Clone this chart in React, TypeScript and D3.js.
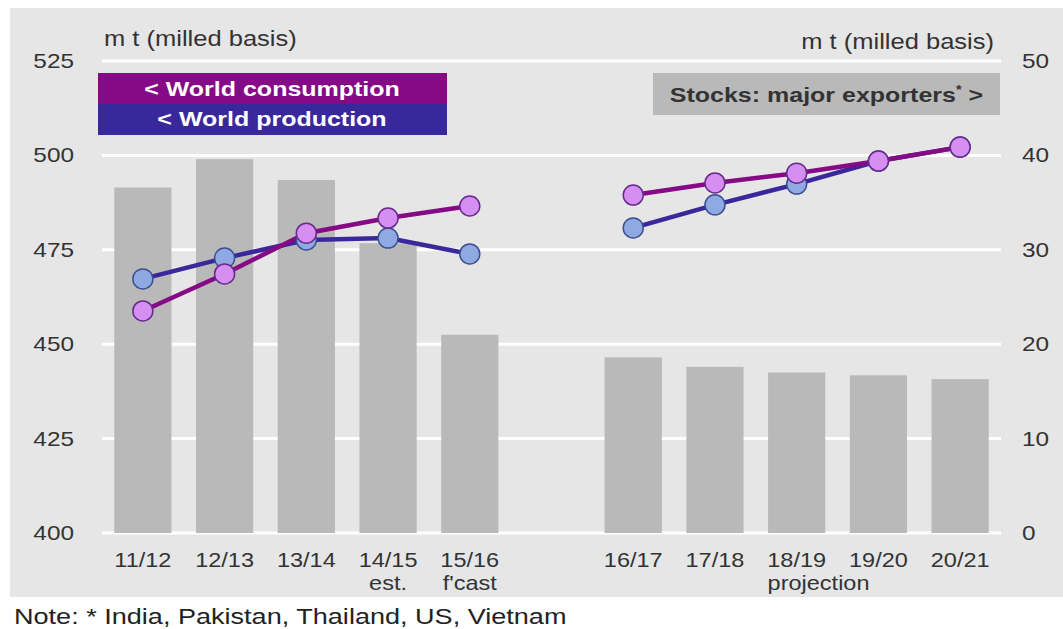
import { useEffect, useRef } from 'react'
import * as d3 from 'd3'

const W = 1063
const H = 629

// plot area
const X0 = 102
const X1 = 1001
const Y_TOP = 61
const Y_BOT = 533

const FONT = 'Arial, "Liberation Sans", sans-serif'
const SX = 1.16 // source picture is a little stretched horizontally

// marketing years; '' is the empty slot between forecast and projection
const YEARS = ['11/12', '12/13', '13/14', '14/15', '15/16', '', '16/17', '17/18', '18/19', '19/20', '20/21']
const SUBLABELS = ['', '', '', 'est.', "f'cast", '', '', '', '', '', '']

// m t milled basis (left axis)
const CONSUMPTION = [458.8, 468.6, 479.4, 483.4, 486.6, null, 489.5, 492.7, 495.3, 498.5, 502.2]
const PRODUCTION = [467.3, 472.8, 477.6, 478.1, 473.9, null, 480.8, 486.9, 492.4, 498.5, 502.2]
// stocks of major exporters (right axis)
const STOCKS = [36.6, 39.6, 37.4, 30.7, 21.0, null, 18.6, 17.6, 17.0, 16.7, 16.3]

const LEFT_TICKS = [400, 425, 450, 475, 500, 525]
const RIGHT_TICKS = [0, 10, 20, 30, 40, 50]

const C_CONS = '#860a86'
const C_PROD = '#38289b'

type Sel = d3.Selection<SVGSVGElement, unknown, null, undefined>

function txt(svg: Sel, x: number, y: number, s: string, opts: { size?: number; anchor?: string; weight?: string; fill?: string; sx?: number } = {}) {
  const { size = 21, anchor = 'start', weight = 'normal', fill = '#333', sx = SX } = opts
  return svg.append('text')
    .attr('transform', `translate(${x},${y}) scale(${sx},1)`)
    .attr('text-anchor', anchor)
    .attr('font-family', FONT)
    .attr('font-size', size)
    .attr('font-weight', weight)
    .attr('fill', fill)
    .text(s)
}

export default function App() {
  const ref = useRef<SVGSVGElement>(null)

  useEffect(() => {
    if (!ref.current) return
    const svg = d3.select(ref.current)
    svg.selectAll('*').remove()

    const x = d3.scaleBand<string>().domain(YEARS.map((d, i) => d || `gap${i}`)).range([X0, X1]).paddingInner(0.3).paddingOuter(0.15)
    const key = (i: number) => YEARS[i] || `gap${i}`
    const cx = (i: number) => (x(key(i)) as number) + x.bandwidth() / 2
    const yL = d3.scaleLinear().domain([400, 525]).range([Y_BOT, Y_TOP])
    const yR = d3.scaleLinear().domain([0, 50]).range([Y_BOT, Y_TOP])

    // panel background
    svg.append('rect').attr('x', 10).attr('y', 8).attr('width', W - 10).attr('height', 589).attr('fill', '#e6e6e6')

    // gridlines
    svg.append('g').selectAll('line').data(LEFT_TICKS).join('line')
      .attr('x1', X0).attr('x2', X1)
      .attr('y1', (d) => yL(d)).attr('y2', (d) => yL(d))
      .attr('stroke', '#ffffff').attr('stroke-width', 3)

    // bars
    svg.append('g').selectAll('rect').data(STOCKS.map((v, i) => ({ v, i })).filter((d) => d.v != null)).join('rect')
      .attr('x', (d) => x(key(d.i)) as number)
      .attr('width', x.bandwidth())
      .attr('y', (d) => yR(d.v as number))
      .attr('height', (d) => Y_BOT - yR(d.v as number))
      .attr('fill', '#b9b9b9')

    // axis labels
    LEFT_TICKS.forEach((d) => txt(svg, 74, yL(d) + 7, String(d), { anchor: 'end' }))
    RIGHT_TICKS.forEach((d) => txt(svg, 1022, yR(d) + 7, String(d)))

    txt(svg, 104, 46, 'm t (milled basis)', { size: 22 })
    txt(svg, 994, 49, 'm t (milled basis)', { size: 22, anchor: 'end' })

    // category labels
    YEARS.forEach((d, i) => {
      if (!d) return
      txt(svg, cx(i), 567, d, { anchor: 'middle', sx: 1.12 })
      if (SUBLABELS[i]) txt(svg, cx(i), 590, SUBLABELS[i], { anchor: 'middle', sx: 1.12 })
    })
    txt(svg, (cx(8) + cx(9)) / 2 - 19, 590, 'projection', { anchor: 'middle', sx: 1.12 })

    // legend boxes
    svg.append('rect').attr('x', 98).attr('y', 73).attr('width', 349).attr('height', 31).attr('fill', C_CONS)
    svg.append('rect').attr('x', 98).attr('y', 104).attr('width', 349).attr('height', 31).attr('fill', C_PROD)
    txt(svg, 272, 96, '< World consumption', { anchor: 'middle', weight: 'bold', fill: '#fff', size: 21, sx: 1.19 })
    txt(svg, 272, 126, '< World production', { anchor: 'middle', weight: 'bold', fill: '#fff', size: 21, sx: 1.19 })

    svg.append('rect').attr('x', 653).attr('y', 73).attr('width', 347).attr('height', 42).attr('fill', '#b9b9b9')
    const st = txt(svg, 983, 102, '', { anchor: 'end', weight: 'bold', size: 21, sx: 1.19 })
    st.append('tspan').text('Stocks: major exporters')
    st.append('tspan').attr('font-size', 12).attr('dy', -8).text('*')
    st.append('tspan').attr('dy', 8).text(' >')

    // lines
    const series = [
      { values: PRODUCTION, line: C_PROD, fill: '#8fa9e2', stroke: '#3d4f92' },
      { values: CONSUMPTION, line: C_CONS, fill: '#d58ef2', stroke: '#6a2a8c' },
    ]
    const lineGen = d3.line<number | null>()
      .defined((d) => d != null)
      .x((_, i) => cx(i))
      .y((d) => yL(d as number))

    series.forEach((s) => {
      svg.append('path').datum(s.values).attr('d', lineGen)
        .attr('fill', 'none').attr('stroke', s.line).attr('stroke-width', 4.5)
    })
    series.forEach((s) => {
      svg.append('g').selectAll('circle').data(s.values.map((v, i) => ({ v, i })).filter((d) => d.v != null)).join('circle')
        .attr('cx', (d) => cx(d.i)).attr('cy', (d) => yL(d.v as number)).attr('r', 10)
        .attr('fill', s.fill).attr('stroke', s.stroke).attr('stroke-width', 1.5)
    })

    // note
    txt(svg, 14, 624, 'Note: * India, Pakistan, Thailand, US, Vietnam', { size: 22, fill: '#222', sx: 1.23 })
  }, [])

  return (
    <svg ref={ref} width={W} height={H} style={{ position: 'absolute', left: 0, top: 0, background: '#fff' }} />
  )
}
